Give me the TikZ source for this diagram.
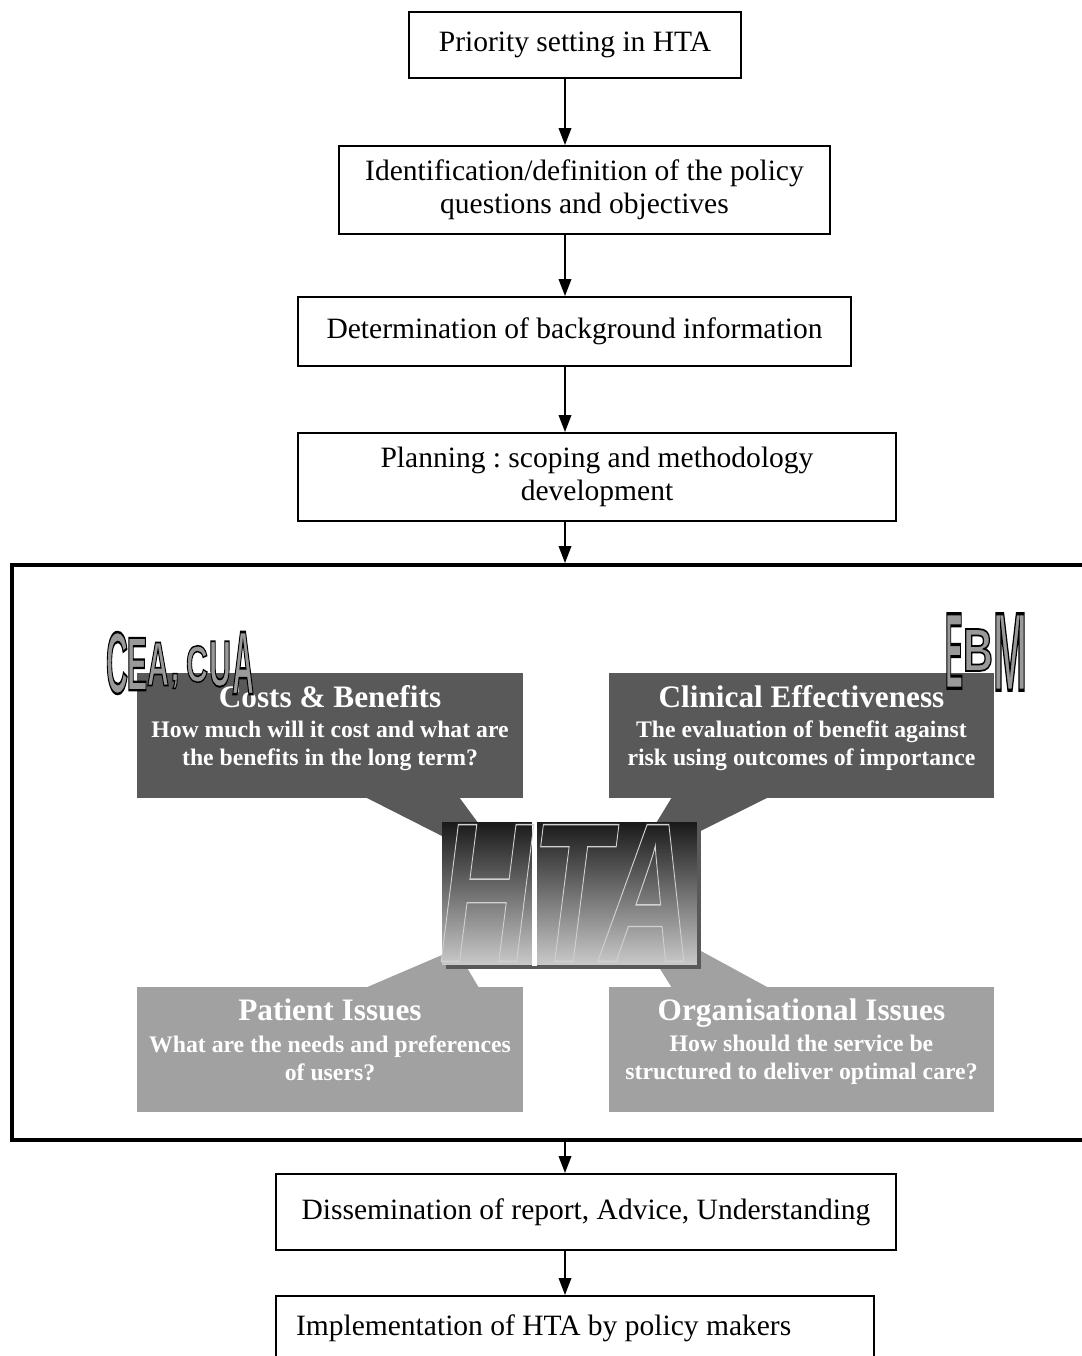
\documentclass[tikz,border=0pt]{standalone}
\usepackage{fontspec}
\setmainfont{Liberation Serif}
\newfontfamily\artfont{Liberation Sans}
\usepackage{graphicx}
\usetikzlibrary{arrows.meta, positioning}
\tikzset{>={Triangle[length=3.4mm,width=2.5mm]}}
\frenchspacing

\definecolor{paneldark}{gray}{0.35}
\definecolor{panellight}{gray}{0.63}
\definecolor{artgray}{gray}{0.6}
\definecolor{htatop}{gray}{0.1}
\definecolor{htabottom}{gray}{0.79}
\definecolor{htaline}{gray}{0.82}

\newcommand{\boxfont}{\fontsize{16.8}{18.7}\selectfont}
\newcommand{\titlefont}{\fontsize{17.8}{20}\selectfont\bfseries}
\newcommand{\askfont}{\fontsize{13.5}{15.9}\selectfont\bfseries}
% filled grey letters with a black outline
\newcommand{\outlined}[1]{{\color{artgray}\special{pdf:literal direct 2 Tr 0.5 w 0 G}#1\special{pdf:literal direct 0 Tr}}}
% letters drawn as outline only
\newcommand{\hollow}[1]{{\color{htaline}\special{pdf:literal direct 1 Tr 0.5 w}#1\special{pdf:literal direct 0 Tr}}}

\begin{document}
\begin{tikzpicture}[x=0.02cm, y=-0.02cm, line width=1.1pt,
    stepbox/.style={draw, align=center, font=\boxfont, inner sep=0},
    panel/.style={inner sep=0, minimum width=7.72cm, minimum height=2.5cm},
    paneltitle/.style={text=white, font=\titlefont, inner sep=0, anchor=base},
    panelask/.style={text=white, font=\askfont, align=center, inner sep=0, anchor=north},
    artletter/.style={inner sep=0, font=\artfont\fontsize{17.3}{17.3}\selectfont\bfseries}]
    \useasboundingbox (0,0) rectangle (1082,1356);
    \coordinate (ax) at (565,0);

    % steps before the assessment
    \node[stepbox, minimum width=6.64cm, minimum height=1.32cm] (priority) at (575,45) {Priority setting in HTA};
    \node[stepbox, minimum width=9.82cm, minimum height=1.76cm] (policy) at (584.5,190) {Identification/definition of the policy\\questions and objectives};
    \node[stepbox, minimum width=11.06cm, minimum height=1.38cm] (background) at (574.5,331.5) {Determination of background information};
    \node[stepbox, minimum width=11.96cm, minimum height=1.76cm] (planning) at (597,477) {Planning : scoping and methodology\\development};

    % the assessment frame
    \node[draw, line width=2.3pt, inner sep=0, minimum width=21.66cm, minimum height=11.5cm] (frame) at (553.5,852.5) {};

    \node[panel, fill=paneldark] (costs) at (330,735.5) {};
    \node[panel, fill=paneldark] (clinical) at (801.5,735.5) {};
    \node[panel, fill=panellight] (patient) at (330,1049) {};
    \node[panel, fill=panellight] (organ) at (801.5,1049) {};

    \fill[paneldark] (365,797) -- (515,873) -- (459,797) -- cycle;
    \fill[paneldark] (672,797) -- (630,866) -- (769,797) -- cycle;
    \fill[panellight] (365,988) -- (456,949) -- (479,988) -- cycle;
    \fill[panellight] (672,988) -- (622,908) -- (769,988) -- cycle;

    \node[paneltitle] (costs title) at ([yshift=-0.7cm]costs.north) {Costs \& Benefits};
    \node[panelask] (costs ask) at ([yshift=-0.96cm]costs.north) {How much will it cost and what are\\the benefits in the long term?};
    \node[paneltitle] (clinical title) at ([yshift=-0.7cm]clinical.north) {Clinical Effectiveness};
    \node[panelask] (clinical ask) at ([yshift=-0.96cm]clinical.north) {The evaluation of benefit against\\risk using outcomes of importance};
    \node[paneltitle] (patient title) at ([yshift=-0.7cm]patient.north) {Patient Issues};
    \node[panelask] (patient ask) at ([yshift=-0.98cm]patient.north) {What are the needs and preferences\\of users?};
    \node[paneltitle] (organ title) at ([yshift=-0.7cm]organ.north) {Organisational Issues};
    \node[panelask] (organ ask) at ([yshift=-0.98cm]organ.north) {How should the service be\\structured to deliver optimal care?};

    % HTA in the middle
    \fill[paneldark] (446,826) rectangle (701,969);
    \node[top color=htatop, bottom color=htabottom, inner sep=0, minimum width=5.1cm, minimum height=2.86cm] (hta) at (569.5,893.5) {};
    \fill[white] (532,822) rectangle (537,966);
    \node[inner sep=0, font=\artfont\fontsize{73}{73}\selectfont\bfseries\itshape] (hta text) at (566,893)
        {\scalebox{1}[1.55]{\hollow{HTA}}};

    \foreach \ch/\cx/\cy/\sx/\sy in {C/117/663/1/2.88, E/137/664/1/2.5, A/158/664/1/2.05, {,}/175/681/1/1.6, C/197/664/1/1.7, U/220/664/1/2.15, A/243/663/1/2.97,
        E/954/651/0.88/3.56, B/978/650/1.36/2.0, M/1010/652/1.33/3.65}
        \node[artletter] (art\cx) at (\cx,\cy) {\scalebox{\sx}[\sy]{\outlined{\ch}}};

    % steps after the assessment
    \node[stepbox, minimum width=12.4cm, minimum height=1.52cm] (report) at (586,1212) {Dissemination of report, Advice, Understanding};
    \node[stepbox, minimum width=11.96cm, minimum height=1.28cm] (implement) at (575,1328) {\makebox[11.16cm][l]{Implementation of HTA by policy makers}};

    \draw[->] (priority.south -| ax) -- (policy.north -| ax);
    \draw[->] (policy.south -| ax) -- (background.north -| ax);
    \draw[->] (background.south -| ax) -- (planning.north -| ax);
    \draw[->] (planning.south -| ax) -- (frame.north -| ax);
    \draw[->] (frame.south -| ax) -- (report.north -| ax);
    \draw[->] (report.south -| ax) -- (implement.north -| ax);
\end{tikzpicture}
\end{document}
